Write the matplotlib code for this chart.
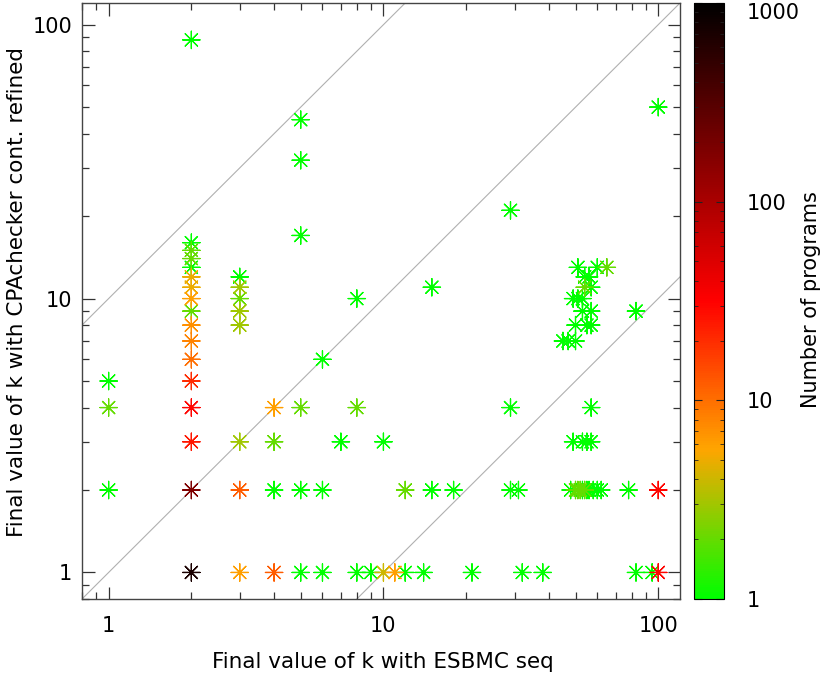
import matplotlib
matplotlib.use("Agg")
import matplotlib.pyplot as plt
from matplotlib.colors import LinearSegmentedColormap, LogNorm
from matplotlib.ticker import LogLocator, NullFormatter
import numpy as np

# k with ESBMC seq, k with CPAchecker cont. refined, number of programs
esbmc_k = [1, 1, 1,
           2, 2, 2, 2, 2, 2, 2, 2, 2, 2, 2, 2, 2, 2, 2, 2, 2,
           3, 3, 3, 3, 3, 3, 3, 3,
           4, 4, 4, 4,
           5, 5, 5, 5, 5, 5,
           6, 6, 6,
           7,
           8, 8, 8,
           9,
           10, 10,
           11,
           12, 12,
           14,
           15, 15,
           18,
           21,
           29, 29, 29,
           31, 32, 38,
           51, 60, 65,
           54, 56,
           54, 57,
           49, 51, 53,
           53, 57,
           50, 55, 57,
           45, 47, 50,
           83, 57,
           49, 53, 55, 57,
           48, 50, 51, 52, 53, 54, 55, 56, 58, 60, 62,
           78, 100,
           83, 95, 100,
           100]
cpa_k = [5, 4, 2,
         88, 16, 15, 14, 13, 12, 11, 10, 9, 8, 7, 6, 5, 4, 3, 2, 1,
         12, 11, 10, 9, 8, 3, 2, 1,
         4, 3, 2, 1,
         45, 32, 17, 4, 2, 1,
         6, 2, 1,
         3,
         10, 4, 1,
         1,
         3, 1,
         1,
         2, 1,
         1,
         11, 2,
         2,
         1,
         21, 4, 2,
         2, 1, 1,
         13, 13, 13,
         12, 12,
         11, 11,
         10, 10, 10,
         9, 9,
         8, 8, 8,
         7, 7, 7,
         9, 4,
         3, 3, 3, 3,
         2, 2, 2, 2, 2, 2, 2, 2, 2, 2, 2,
         2, 2,
         1, 1, 1,
         50]
n_programs = [1, 2, 1,
              1, 1, 2, 2, 1, 5, 5, 6, 2, 7, 8, 10, 20, 30, 25, 180, 700,
              1, 3, 2, 3, 3, 3, 12, 6,
              6, 2, 1, 12,
              1, 1, 1, 2, 1, 1,
              1, 1, 1,
              1,
              1, 2, 1,
              1,
              1, 4,
              6,
              2, 1,
              1,
              1, 1,
              1,
              1,
              1, 1, 1,
              1, 1, 1,
              1, 1, 2,
              1, 1,
              2, 1,
              1, 1, 1,
              1, 1,
              1, 1, 1,
              1, 1, 1,
              1, 1,
              1, 1, 1, 1,
              1, 2, 2, 2, 1, 2, 1, 1, 1, 1, 1,
              1, 30,
              1, 1, 30,
              1]

tick_values = [1, 10, 100]
cbar_ticks = [1, 10, 100, 1000]
diag_factors = [10, 1, 0.1]

plt.rcParams['font.family'] = ['DejaVu Sans']
fig = plt.figure(figsize=(8.3, 6.74), dpi=100)
ax = fig.add_axes([82/830, 1-599/674, 598/830, 596/674])
cax = fig.add_axes([694/830, 1-599/674, 30/830, 596/674])

cmap = LinearSegmentedColormap.from_list(
    "prog", [(0, "#00ff00"), (0.25, "#ffa500"), (0.5, "#ff0000"), (1, "#000000")])
norm = LogNorm(vmin=1, vmax=1000)

xmin, xmax = 0.8, 120
line_x = np.array([xmin, xmax])
for f in diag_factors:
    ax.plot(line_x, line_x * f, color="#b0b0b0", lw=0.8, zorder=1)

order = np.argsort(n_programs, kind="stable")
xs = np.array(esbmc_k)[order]
ys = np.array(cpa_k)[order]
cs = np.array(n_programs)[order]
sc = ax.scatter(xs, ys, c=cs, cmap=cmap, norm=norm, marker=(8, 2, 0),
                s=12.5**2, linewidths=0.9, zorder=3)

ax.set_xscale("log")
ax.set_yscale("log")
ax.set_xlim(xmin, xmax)
ax.set_ylim(xmin, xmax)
ax.set_xticks(tick_values)
ax.set_yticks(tick_values)
ax.set_xticklabels([str(v) for v in tick_values])
ax.set_yticklabels([str(v) for v in tick_values])
ax.xaxis.set_minor_locator(LogLocator(base=10, subs=np.arange(2, 10)))
ax.yaxis.set_minor_locator(LogLocator(base=10, subs=np.arange(2, 10)))
ax.xaxis.set_minor_formatter(NullFormatter())
ax.yaxis.set_minor_formatter(NullFormatter())
ax.tick_params(which="both", direction="in", top=True, right=True,
               labelsize=15, color="#333333")
ax.tick_params(which="major", length=9, width=0.9)
ax.tick_params(which="minor", length=5, width=0.9)
ax.tick_params(axis="x", which="major", pad=12)
ax.tick_params(axis="y", which="major", pad=7)
for s in ax.spines.values():
    s.set_color("#444444")
    s.set_linewidth(1.0)

ax.set_xlabel("Final value of k with ESBMC seq", fontsize=15.5)
ax.xaxis.set_label_coords(0.5025, -0.1057)
ax.xaxis.label.set_va("center")
ax.set_ylabel("Final value of k with CPAchecker cont. refined", fontsize=15.5)
ax.yaxis.set_label_coords(-0.109, 0.515)
ax.yaxis.label.set_va("center")

cb = fig.colorbar(sc, cax=cax)
cb.set_ticks(cbar_ticks)
cb.set_ticklabels([str(v) for v in cbar_ticks])
cax.yaxis.set_minor_locator(LogLocator(base=10, subs=np.arange(2, 10)))
cax.yaxis.set_minor_formatter(NullFormatter())
cax.tick_params(which="both", direction="in", left=True, right=True,
                labelsize=15, color="#222222", pad=16)
cax.tick_params(which="major", length=6)
cax.tick_params(which="minor", length=3)
cb.outline.set_linewidth(0.8)
cb.set_label("Number of programs", fontsize=15)
cax.yaxis.set_label_coords((811-694)/30, 0.502)
cax.yaxis.label.set_va("center")
cax.yaxis.label.set_rotation(90)
for lab in cax.get_yticklabels():
    if lab.get_text() == "1000":
        lab.set_va("top")

fig.savefig("out.png", dpi=100)
